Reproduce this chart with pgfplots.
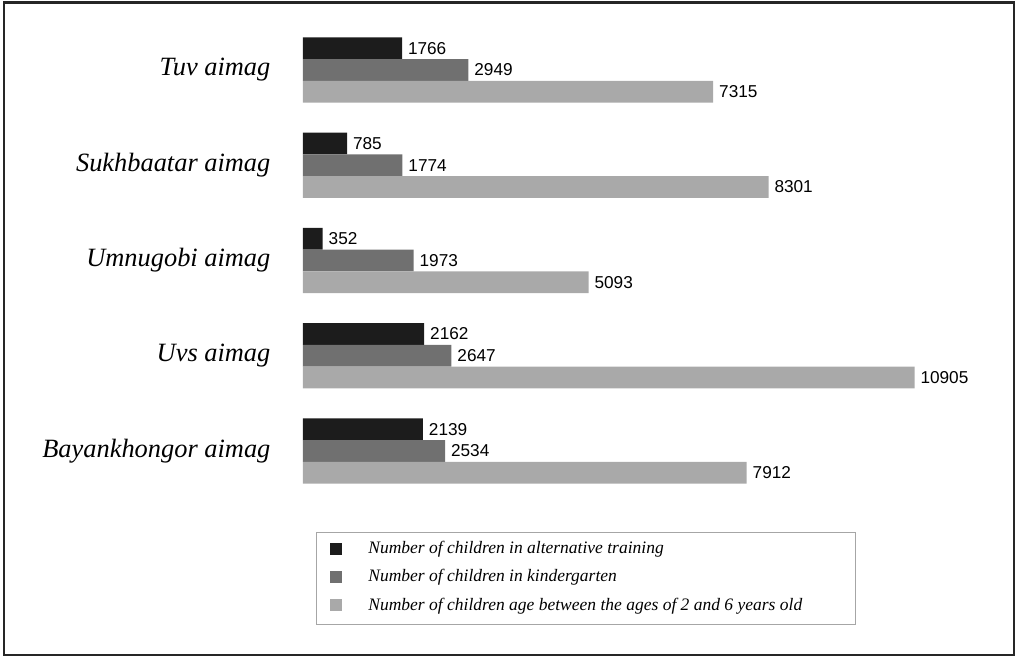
\documentclass[border=0pt]{standalone}
\usepackage{fontspec}
\setmainfont{Liberation Serif}
\newfontfamily\arialf{Liberation Sans}
\usepackage{pgfplots}
\pgfplotsset{compat=1.18}
\definecolor{cA}{HTML}{1C1C1C}
\definecolor{cB}{HTML}{707070}
\definecolor{cC}{HTML}{A9A9A9}
\begin{document}
\begin{tikzpicture}
\begin{axis}[
 at={(151.5pt,-11.2pt)}, anchor=north west,
 scale only axis, width=350.5pt, height=238.125pt,
 xmin=0, xmax=12500, ymin=0.5, ymax=5.5, y dir=reverse,
 xbar, bar width=0.228,
 axis line style={draw=none}, tick style={draw=none},
 xtick=\empty, ytick={1,2,3,4,5},
 yticklabels={Tuv aimag, Sukhbaatar aimag, Umnugobi aimag, Uvs aimag, Bayankhongor aimag},
 yticklabel style={font=\itshape\fontsize{13.2}{15}\selectfont, xshift=-8.5pt},
 nodes near coords={\pgfmathprintnumber[1000 sep={},assume math mode=true]{\pgfplotspointmeta}},
 every node near coord/.append style={font=\arialf\fontsize{8.6}{10}\selectfont, inner sep=2.8pt, black},
 legend style={at={(0.0385,-0.080)}, anchor=north west, draw=none, fill=none,
   font=\itshape\fontsize{8.75}{10}\selectfont, inner sep=0pt, row sep=2.5pt},
 legend cell align=left,
 legend image code/.code={\fill[#1] (0pt,-3pt) rectangle (6pt,3pt); \path[draw=none,fill=none] (0pt,0pt) -- (17pt,0pt);},
 clip=false,
]
\addplot[fill=cA, draw=none, bar shift=-0.228] coordinates {(1766,1) (785,2) (352,3) (2162,4) (2139,5)};
\addplot[fill=cB, draw=none, bar shift=0] coordinates {(2949,1) (1774,2) (1973,3) (2647,4) (2534,5)};
\addplot[fill=cC, draw=none, bar shift=0.228] coordinates {(7315,1) (8301,2) (5093,3) (10905,4) (7912,5)};
\legend{Number of children in alternative training, Number of children in kindergarten, Number of children age between the ages of 2 and 6 years old}
\end{axis}
\draw[gray!70, line width=0.5pt] (158pt,-266pt) rectangle (427.5pt,-312pt);
\draw[black!85, line width=1.3pt] (2pt,-1.3pt) rectangle (507pt,-327.5pt);
\pgfresetboundingbox
\path (0pt,0pt) rectangle (509.5pt,-329.5pt);
\end{tikzpicture}
\end{document}
